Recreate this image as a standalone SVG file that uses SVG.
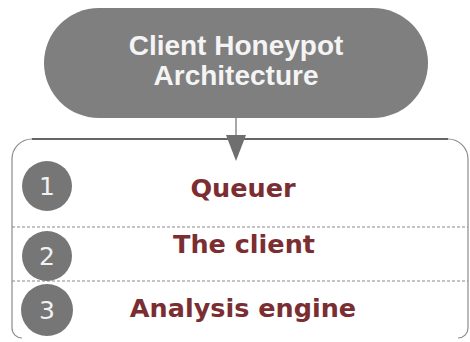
<svg xmlns="http://www.w3.org/2000/svg" width="470" height="342" viewBox="0 0 470 342">
<style>
.title{font-family:"Liberation Sans",Arial,sans-serif;font-weight:bold;font-size:28px;fill:#f4f4f4;text-anchor:middle}
.label{font-family:"DejaVu Sans",Verdana,sans-serif;font-weight:bold;font-size:25.5px;fill:#7a2e32;text-anchor:middle}
.num{font-family:"DejaVu Sans",Verdana,sans-serif;font-size:25px;fill:#f2f2f2;text-anchor:middle}
.badge{fill:#767676}
.sep{stroke:#8a8a8a;stroke-width:1.2;stroke-dasharray:3,2;fill:none}
</style>
<rect width="470" height="342" fill="#ffffff"/>
<g id="title-node">
<rect x="44" y="8" width="384" height="110" rx="55" ry="55" fill="#7f7f7f"/>
<text class="title" x="236" y="55">Client Honeypot</text>
<text class="title" x="236" y="85">Architecture</text>
</g>
<g id="container">
<path d="M12,328 L12,159 A20,20 0 0 1 32,139" fill="none" stroke="#8c8c8c" stroke-width="1.2"/>
<path d="M12,328 A10,10 0 0 0 22,338" fill="none" stroke="#8c8c8c" stroke-width="1.2"/>
<path d="M32,139 L448,139" fill="none" stroke="#333333" stroke-width="1.5"/>
<path d="M448,139 A20,20 0 0 1 468,159 L468,328 A10,10 0 0 1 458,338" fill="none" stroke="#8c8c8c" stroke-width="1.2"/>
<line class="sep" x1="12" y1="227" x2="468" y2="227"/>
<line class="sep" x1="12" y1="281" x2="468" y2="281"/>
</g>
<g id="connectors">
<line x1="236" y1="118" x2="236" y2="136" stroke="#8a8a8a" stroke-width="1.5"/>
<polygon points="226,135 246,135 236,161" fill="#6f6f6f"/>
</g>
<g id="item1">
<circle class="badge" cx="47" cy="186" r="25"/>
<text class="num" x="47" y="195">1</text>
<text class="label" x="243" y="197">Queuer</text>
</g>
<g id="item2">
<circle class="badge" cx="47" cy="256" r="25"/>
<text class="num" x="47" y="265">2</text>
<text class="label" x="244" y="253">The client</text>
</g>
<g id="item3">
<circle class="badge" cx="47" cy="310" r="26"/>
<text class="num" x="47" y="319">3</text>
<text class="label" x="243" y="317">Analysis engine</text>
</g>
</svg>
